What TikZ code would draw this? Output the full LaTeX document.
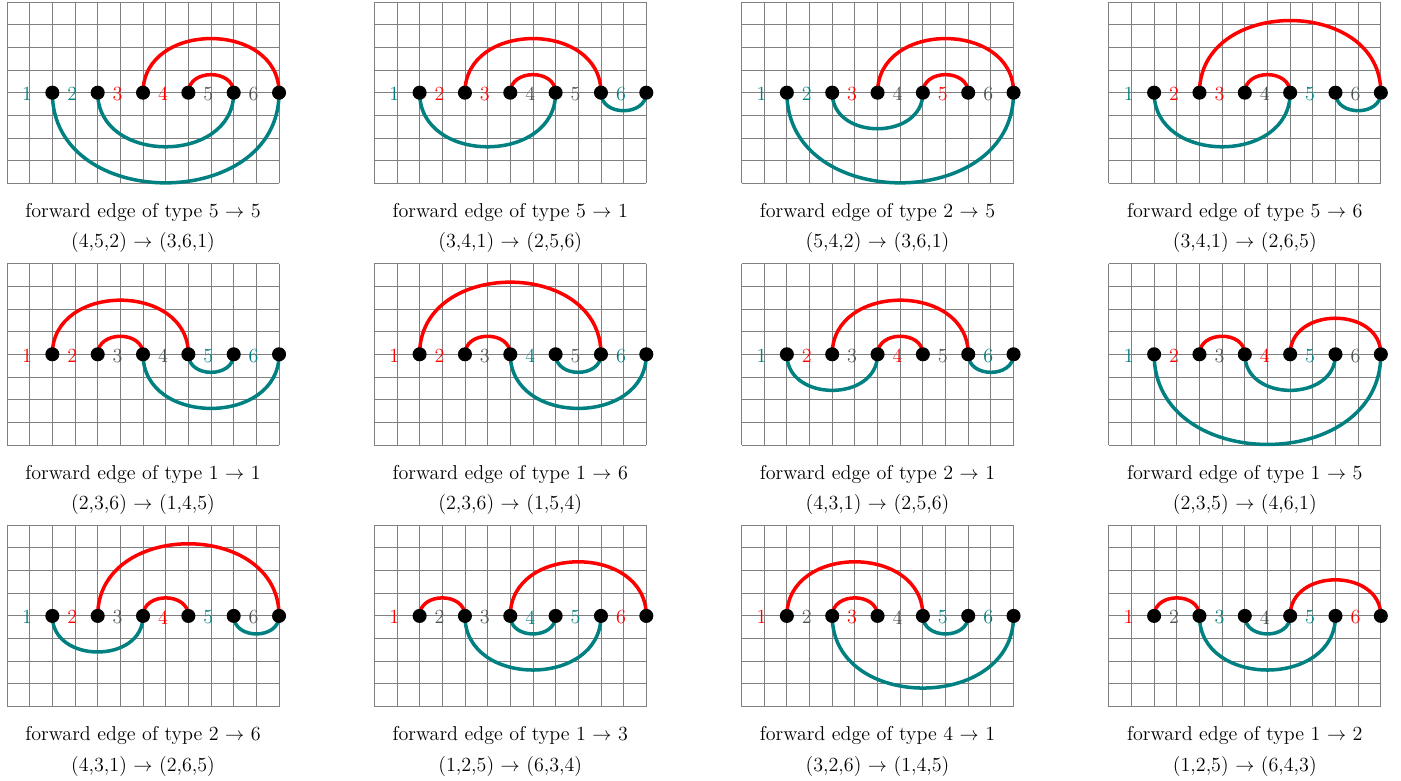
\documentclass[tikz,border=0pt]{standalone}
\usetikzlibrary{backgrounds}
\definecolor{tl}{rgb}{0,0.5,0.5}
\definecolor{rd}{rgb}{1,0,0}
\definecolor{gy}{rgb}{0.3,0.33,0.33}
\tikzset{
  gridline/.style={draw=gray, line width=0.55pt, step=0.5cm},
  dot/.style={circle, fill=black, inner sep=0pt, minimum size=0.31cm},
  redarc/.style={draw=rd, line width=2.2pt},
  tealarc/.style={draw=tl, line width=2.2pt},
  lab/.style={inner sep=0pt, font=\fontsize{12.6}{15}\selectfont},
  captext/.style={inner sep=0pt, font=\fontsize{12.6}{15}\selectfont},
}
% #1 x, #2 y, #3 prefix, #4 label colours, #5 red arcs, #6 teal arcs, #7 type, #8 tuples
\newcommand\mypanel[8]{%
\begin{scope}[shift={(#1,#2)}]
  \begin{pgfonlayer}{background}
    \draw[gridline] (0,0) grid (12,8);
  \end{pgfonlayer}
  \foreach \k in {1,...,6} \node[dot] (#3-d\k) at (2*\k,4) {};
  \foreach \c [count=\k] in {#4} \node[lab, text=\c] (#3-l\k) at (2*\k-1.12,3.94) {\k};
  \begin{pgfonlayer}{background}
    \foreach \a/\b in {#5} \draw[redarc] (#3-d\a.center) to[out=90,in=90,looseness=1.36] (#3-d\b.center);
    \foreach \a/\b in {#6} \draw[tealarc] (#3-d\a.center) to[out=-90,in=-90,looseness=1.36] (#3-d\b.center);
  \end{pgfonlayer}
  \node[captext] (#3-c1) at (6,-1.28) {forward edge of type #7};
  \node[captext] (#3-c2) at (6,-2.63) {#8};
\end{scope}}
\begin{document}
\begin{tikzpicture}[x=0.5cm,y=0.5cm]
\useasboundingbox (-0.309,-26.36) rectangle (61.49,8.088);
\mypanel{0}{0}{p1}{tl,tl,rd,rd,gy,gy}{3/6,4/5}{1/6,2/5}{5 $\rightarrow$ 5}{(4,5,2) $\rightarrow$ (3,6,1)}
\mypanel{16.2}{0}{p2}{tl,rd,rd,gy,gy,tl}{2/5,3/4}{1/4,5/6}{5 $\rightarrow$ 1}{(3,4,1) $\rightarrow$ (2,5,6)}
\mypanel{32.4}{0}{p3}{tl,tl,rd,gy,rd,gy}{3/6,4/5}{1/6,2/4}{2 $\rightarrow$ 5}{(5,4,2) $\rightarrow$ (3,6,1)}
\mypanel{48.6}{0}{p4}{tl,rd,rd,gy,tl,gy}{2/6,3/4}{1/4,5/6}{5 $\rightarrow$ 6}{(3,4,1) $\rightarrow$ (2,6,5)}
\mypanel{0}{-11.54}{p5}{rd,rd,gy,gy,tl,tl}{1/4,2/3}{3/6,4/5}{1 $\rightarrow$ 1}{(2,3,6) $\rightarrow$ (1,4,5)}
\mypanel{16.2}{-11.54}{p6}{rd,rd,gy,tl,gy,tl}{1/5,2/3}{3/6,4/5}{1 $\rightarrow$ 6}{(2,3,6) $\rightarrow$ (1,5,4)}
\mypanel{32.4}{-11.54}{p7}{tl,rd,gy,rd,gy,tl}{2/5,3/4}{1/3,5/6}{2 $\rightarrow$ 1}{(4,3,1) $\rightarrow$ (2,5,6)}
\mypanel{48.6}{-11.54}{p8}{tl,rd,gy,rd,tl,gy}{2/3,4/6}{3/5,1/6}{1 $\rightarrow$ 5}{(2,3,5) $\rightarrow$ (4,6,1)}
\mypanel{0}{-23.08}{p9}{tl,rd,gy,rd,tl,gy}{2/6,3/4}{1/3,5/6}{2 $\rightarrow$ 6}{(4,3,1) $\rightarrow$ (2,6,5)}
\mypanel{16.2}{-23.08}{p10}{rd,gy,gy,tl,tl,rd}{1/2,3/6}{2/5,3/4}{1 $\rightarrow$ 3}{(1,2,5) $\rightarrow$ (6,3,4)}
\mypanel{32.4}{-23.08}{p11}{rd,gy,rd,gy,tl,tl}{1/4,2/3}{2/6,4/5}{4 $\rightarrow$ 1}{(3,2,6) $\rightarrow$ (1,4,5)}
\mypanel{48.6}{-23.08}{p12}{rd,gy,tl,gy,tl,rd}{1/2,4/6}{2/5,3/4}{1 $\rightarrow$ 2}{(1,2,5) $\rightarrow$ (6,4,3)}
\end{tikzpicture}
\end{document}
